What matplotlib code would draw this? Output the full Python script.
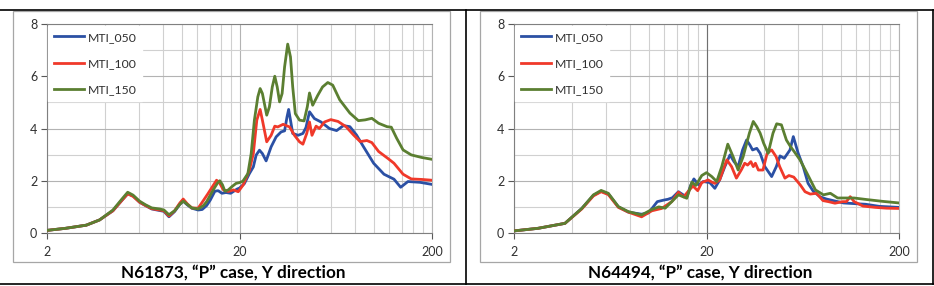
import numpy as np
import matplotlib
matplotlib.use("Agg")
import matplotlib.pyplot as plt
from matplotlib.lines import Line2D
from matplotlib.patches import Rectangle
from matplotlib.ticker import FixedLocator, NullFormatter

plt.rcParams['font.family'] = ['Lato', 'DejaVu Sans']

W, H = 934, 286

labels = ['MTI_050', 'MTI_100', 'MTI_150']
colors = ['#2b50a4', '#f0392a', '#5b7f31']
titles = ['N61873, \u201cP\u201d case, Y direction', 'N64494, \u201cP\u201d case, Y direction']

# ---- N61873 (left) ----
f_050_L = [2.0, 2.5, 3.2, 3.75, 4.4, 4.9, 5.25, 5.6, 6.05, 6.5, 7.0, 7.7, 8.1, 8.6, 9.2, 9.8, 10.2,
           10.7, 11.3, 12.2, 12.8, 13.5, 14.1, 14.9, 15.5, 16.2, 17.0, 18.0, 19.4, 20.0, 21.2, 22.5,
           23.6, 24.4, 25.4, 26.3, 27.5, 29.2, 31.0, 32.9, 34.3, 35.3, 36.0, 36.8, 37.8, 40.3, 42.7,
           44.3, 46.2, 49.0, 53.0, 58.6, 63.9, 69.3, 74.9, 81.1, 88.0, 99.5, 112.6, 126.9, 137.5,
           150.0, 173.0, 200.0]
v_050_L = [0.1, 0.18, 0.3, 0.5, 0.85, 1.25, 1.5, 1.42, 1.18, 1.05, 0.92, 0.86, 0.83, 0.62, 0.82, 1.1,
           1.22, 1.08, 0.95, 0.88, 0.9, 1.05, 1.26, 1.6, 1.62, 1.52, 1.55, 1.52, 1.68, 1.72, 1.89, 2.27,
           2.53, 2.98, 3.17, 3.04, 2.76, 3.30, 3.68, 3.87, 3.91, 4.44, 4.73, 4.32, 3.81, 3.74, 3.81,
           4.04, 4.64, 4.38, 4.25, 4.0, 3.92, 4.11, 4.07, 3.75, 3.31, 2.67, 2.25, 2.06, 1.75,
           1.97, 1.94, 1.86]

f_100_L = [2.0, 2.5, 3.2, 3.75, 4.4, 4.9, 5.25, 5.6, 6.05, 6.5, 7.0, 7.7, 8.1, 8.6, 9.2, 9.8, 10.2,
           10.7, 11.3, 12.2, 13.0, 13.7, 14.4, 15.2, 15.8, 16.5, 17.5, 18.6, 19.7, 20.9, 22.5, 23.6,
           24.6, 25.6, 26.3, 27.7, 29.2, 30.5, 31.6, 33.7, 36.4, 38.6, 41.0, 42.7, 44.7, 46.2, 47.6,
           50.0, 52.0, 55.3, 59.6, 65.0, 71.5, 78.3, 84.7, 91.8, 97.4, 105.6, 118.7, 126.9, 141.5,
           156.0, 177.0, 200.0]
v_100_L = [0.1, 0.18, 0.3, 0.5, 0.85, 1.25, 1.5, 1.4, 1.18, 1.05, 0.93, 0.88, 0.85, 0.65, 0.85, 1.15,
           1.3, 1.12, 0.96, 0.95, 1.25, 1.5, 1.75, 2.02, 1.9, 1.65, 1.59, 1.65, 1.58, 1.84, 2.40, 3.04,
           4.32, 4.73, 4.32, 3.49, 3.74, 4.09, 4.06, 4.16, 4.06, 3.74, 3.49, 3.40, 3.81, 4.25, 3.74,
           4.09, 4.0, 4.25, 4.34, 4.27, 4.07, 3.75, 3.5, 3.54, 3.46, 3.12, 2.84, 2.67, 2.25,
           2.07, 2.05, 2.02]

f_150_L = [2.0, 2.5, 3.2, 3.75, 4.4, 4.9, 5.25, 5.6, 6.05, 6.5, 7.0, 7.7, 8.1, 8.6, 9.2, 9.8, 10.2,
           10.7, 11.3, 12.2, 13.0, 13.5, 14.6, 15.4, 15.8, 16.3, 16.8, 17.5, 18.3, 19.2, 20.0, 20.8,
           22.1, 23.0, 23.9, 24.9, 25.6, 26.3, 27.7, 28.6, 29.6, 30.5, 31.4, 32.3, 33.3, 34.3, 35.6,
           36.8, 37.8, 39.0, 41.0, 43.3, 45.0, 46.2, 48.0, 51.0, 54.0, 57.5, 61.0, 66.3, 74.9, 82.9,
           89.9, 97.4, 105.6, 116.8, 122.9, 131.0, 141.5, 156.0, 177.0, 200.0]
v_150_L = [0.1, 0.18, 0.3, 0.5, 0.88, 1.3, 1.56, 1.45, 1.22, 1.08, 0.96, 0.92, 0.88, 0.7, 0.85, 1.1,
           1.22, 1.1, 0.96, 0.92, 1.05, 1.2, 1.65, 1.92, 2.0, 1.85, 1.6, 1.65, 1.78, 1.9, 1.93, 1.98,
           2.27, 3.04, 4.32, 5.21, 5.53, 5.34, 4.51, 4.83, 5.59, 6.0, 5.59, 5.02, 5.34, 6.36, 7.23,
           6.74, 5.59, 4.57, 4.32, 4.29, 4.83, 5.36, 4.89, 5.27, 5.59, 5.76, 5.66, 5.10, 4.59, 4.30,
           4.33, 4.39, 4.20, 4.07, 4.05, 3.63, 3.18, 2.99, 2.89, 2.82]

# ---- N64494 (right) ----
f_050_R = [2.0, 2.67, 3.68, 4.5, 5.17, 5.67, 6.18, 6.97, 7.85, 9.2, 10.0, 11.1, 12.0, 12.6, 13.3,
           14.3, 15.8, 16.5, 17.2, 18.2, 19.2, 20.8, 22.1, 23.4, 24.9, 26.5, 27.8, 29.2, 30.8, 32.3,
           33.6, 34.7, 36.5, 38.0, 40.2, 43.6, 46.1, 48.2, 50.7, 54.3, 56.5, 59.9, 63.6, 67.4, 71.7,
           78.0, 84.0, 91.0, 103.0, 120.0, 134.0, 158.0, 200.0]
v_050_R = [0.08, 0.18, 0.37, 0.94, 1.44, 1.6, 1.5, 1.0, 0.8, 0.72, 0.77, 1.2, 1.26, 1.29, 1.35,
           1.58, 1.37, 1.8, 2.07, 1.84, 1.97, 1.93, 1.71, 2.03, 2.54, 2.99, 2.73, 2.54, 3.18, 3.56,
           3.37, 3.18, 3.24, 3.05, 2.54, 2.16, 2.54, 2.95, 2.86, 3.18, 3.69, 3.05, 2.54, 1.9, 1.6,
           1.38, 1.3, 1.24, 1.15, 1.12, 1.1, 1.02, 0.98]

f_100_R = [2.0, 2.67, 3.68, 4.5, 5.17, 5.67, 6.18, 6.97, 7.85, 9.2, 10.4, 11.7, 13.2, 14.3, 15.2,
           16.1, 17.0, 18.0, 18.9, 20.4, 21.3, 22.1, 23.4, 24.5, 25.5, 27.0, 28.6, 30.3, 31.6, 32.7,
           34.0, 35.0, 35.9, 37.2, 39.3, 41.3, 43.6, 46.0, 48.0, 51.1, 53.6, 56.8, 61.4, 65.0, 69.2,
           74.6, 80.6, 86.0, 93.0, 102.0, 106.6, 111.6, 117.0, 130.0, 151.0, 172.0, 200.0]
v_100_R = [0.08, 0.18, 0.37, 0.92, 1.42, 1.58, 1.47, 0.98, 0.8, 0.62, 0.85, 0.94, 1.2, 1.56, 1.38,
           1.6, 1.8, 1.62, 1.93, 2.03, 1.95, 1.90, 2.03, 2.45, 2.8, 2.54, 2.1, 2.41, 2.67, 2.6,
           2.73, 2.54, 2.67, 2.41, 2.41, 3.05, 3.18, 2.92, 2.54, 2.1, 2.2, 2.14, 1.84, 1.58, 1.49,
           1.52, 1.24, 1.2, 1.14, 1.2, 1.2, 1.39, 1.2, 1.03, 0.98, 0.95, 0.94]

f_150_R = [2.0, 2.67, 3.68, 4.5, 5.17, 5.67, 6.18, 6.97, 7.85, 9.2, 10.4, 11.3, 12.2, 13.2, 14.3,
           15.8, 16.8, 17.6, 18.9, 20.0, 21.3, 22.6, 24.0, 25.8, 27.5, 29.2, 31.0, 33.4, 35.0, 36.5,
           38.0, 39.6, 41.8, 44.3, 46.3, 49.0, 52.0, 54.6, 57.3, 61.2, 66.5, 73.6, 81.0, 88.0, 96.0,
           116.8, 136.0, 165.0, 200.0]
v_150_R = [0.08, 0.18, 0.37, 0.94, 1.46, 1.63, 1.52, 1.01, 0.82, 0.69, 0.9, 1.0, 0.95, 1.2, 1.46,
           1.33, 1.95, 1.82, 2.2, 2.31, 2.16, 1.97, 2.54, 3.40, 2.92, 2.41, 2.92, 3.82, 4.27, 4.07,
           3.82, 3.44, 3.05, 3.82, 4.18, 4.14, 3.56, 3.31, 3.1, 2.8, 2.29, 1.65, 1.46, 1.52, 1.34,
           1.34, 1.28, 1.21, 1.15]

panels = [
    [(f_050_L, v_050_L), (f_100_L, v_100_L), (f_150_L, v_150_L)],
    [(f_050_R, v_050_R), (f_100_R, v_100_R), (f_150_R, v_150_R)],
]

x_major = [2, 20, 200]
x_minor = [4, 6, 8, 10, 12, 14, 16, 18, 40, 60, 80, 100, 120, 140, 160, 180]
y_major = [0, 2, 4, 6, 8]
y_minor = [1, 3, 5, 7]

fig = plt.figure(figsize=(W / 100, H / 100), dpi=100)


def fx(px):
    return px / W


def fy(py):
    return 1 - py / H


for k, series in enumerate(panels):
    off = k * 467
    # gray chart frame
    fig.add_artist(Rectangle((fx(off + 13), fy(262)), fx(437), (262 - 11) / H,
                             transform=fig.transFigure, fill=False, ec='#a6a6a6', lw=0.9))
    ax = fig.add_axes([fx(off + 47), fy(233), fx(385), 209 / H])
    ax.set_xscale('log')
    ax.set_xlim(2, 200)
    ax.set_ylim(0, 8)

    for (f, v), c, lab in zip(series, colors, labels):
        ax.plot(f, v, color=c, lw=2.0, label=lab, solid_joinstyle='round', zorder=3)

    ax.xaxis.set_major_locator(FixedLocator(x_major))
    ax.xaxis.set_minor_locator(FixedLocator(x_minor))
    ax.xaxis.set_minor_formatter(NullFormatter())
    ax.set_xticklabels([str(v) for v in x_major])
    ax.yaxis.set_major_locator(FixedLocator(y_major))
    ax.yaxis.set_minor_locator(FixedLocator(y_minor))
    ax.set_yticklabels([str(v) for v in y_major])

    ax.grid(True, which='major', color='#b3b3b3', lw=0.8)
    ax.grid(True, which='minor', color='#d0d0d0', lw=0.8)
    ax.set_axisbelow(True)
    if k == 1:
        ax.axvline(20, color='#707070', lw=0.8, zorder=1)

    ax.tick_params(which='major', length=4, width=0.8, color='#595959',
                   labelsize=9, labelcolor='#303030', pad=3)
    ax.tick_params(axis='x', which='major', pad=5)
    ax.tick_params(which='minor', length=0)
    ax.spines['left'].set_color('#7f7f7f')
    ax.spines['bottom'].set_color('#7f7f7f')
    ax.spines['top'].set_color('#808080')
    ax.spines['right'].set_color('#b3b3b3')
    for s in ax.spines.values():
        s.set_linewidth(0.8)

    leg = ax.legend(loc='upper left', bbox_to_anchor=(0.0, 0.995), borderaxespad=0.1,
                    frameon=True, fancybox=False, framealpha=1, facecolor='white',
                    edgecolor='white', fontsize=8.8, handlelength=2.5, handletextpad=0.3,
                    labelspacing=1.25, borderpad=0.45)
    for t in leg.get_texts():
        t.set_color('#303030')

    fig.text(fx(off + 233), fy(273), titles[k], ha='center', va='center',
             fontsize=12.3, fontweight='bold', color='black')

# table borders
for y in (10, 284):
    fig.add_artist(Line2D([0, 1], [fy(y), fy(y)], transform=fig.transFigure,
                          color='black', lw=1.2))
for x in (466, 933):
    fig.add_artist(Line2D([fx(x), fx(x)], [fy(10), fy(284)], transform=fig.transFigure,
                          color='black', lw=1.2))

fig.savefig('out.png', dpi=100, facecolor='white')
